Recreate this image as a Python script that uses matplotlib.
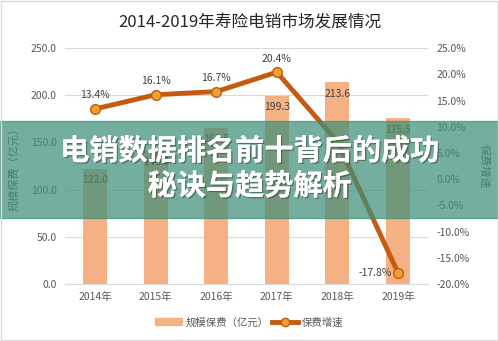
import numpy as np
import matplotlib.pyplot as plt
from matplotlib.patches import Rectangle
import matplotlib.patheffects as pe

plt.rcParams['font.family'] = ['Noto Sans CJK SC', 'DejaVu Sans']

# 数据
years = ['2014年', '2015年', '2016年', '2017年', '2018年', '2019年']
premium = [122.0, 141.8, 165.5, 199.3, 213.6, 175.5]
growth = [13.4, 16.1, 16.7, 20.4, 7.2, -17.8]

bar_color = '#f4b183'
line_color = '#c55a11'
tick_color = '#595959'

fig = plt.figure(figsize=(4.99, 3.41), dpi=100)
ax = fig.add_axes([0.130, 0.167, 0.728, 0.692])
x = np.arange(len(years))

ax.bar(x, premium, width=0.4, color=bar_color, zorder=2)
ax.set_ylim(0, 250)
ax.set_yticks(np.arange(0, 251, 50))
ax.set_yticklabels([f'{v:.1f}' for v in np.arange(0, 251, 50)])
ax.set_xlim(-0.5, len(years) - 0.5)
ax.set_xticks(x)
ax.set_xticklabels(years)
ax.grid(axis='y', color='#d9d9d9', linewidth=0.8, zorder=0)
for s in ['top', 'right', 'left']:
    ax.spines[s].set_visible(False)
ax.spines['bottom'].set_color('#d9d9d9')
ax.tick_params(length=0, colors=tick_color, labelsize=7.5, pad=6)
ax.set_ylabel('规模保费（亿元）', color=tick_color, fontsize=8, labelpad=8)

for xi, v in zip(x, premium):
    ax.text(xi, v - 12, f'{v:.1f}', ha='center', va='center', fontsize=7.5, color='#404040', zorder=3)

ax2 = ax.twinx()
ax2.plot(x, growth, color=line_color, linewidth=3.5, marker='o', markersize=7,
         markerfacecolor='#f0a030', markeredgecolor=line_color, markeredgewidth=1, zorder=4)
ax2.set_ylim(-20, 25)
ax2.set_yticks(np.arange(-20, 26, 5))
ax2.set_yticklabels([f'{v:.1f}%' for v in np.arange(-20, 26, 5)])
for s in ax2.spines.values():
    s.set_visible(False)
ax2.tick_params(length=0, colors=tick_color, labelsize=7.5, pad=6)
ax2.set_ylabel('保费增速', color=tick_color, fontsize=8, rotation=270, labelpad=14)

for xi, g in zip(x, growth):
    if g < 0:
        ax2.text(xi - 0.1, g, f'{g:.1f}%', ha='right', va='center', fontsize=7.5, color='#404040')
    elif xi == 4:
        pass
    else:
        ax2.text(xi, g + 2.6, f'{g:.1f}%', ha='center', va='center', fontsize=7.5, color='#404040')

fig.text(0.5, 0.935, '2014-2019年寿险电销市场发展情况', ha='center', va='center',
         fontsize=12, color='#262626')

# 图例
h1 = Rectangle((0, 0), 1, 1, color=bar_color)
h2, = ax2.plot([], [], color=line_color, linewidth=3.5, marker='o', markersize=6,
               markerfacecolor='#f0a030', markeredgecolor=line_color)
fig.legend([h1, h2], ['规模保费（亿元）', '保费增速'], loc='center', bbox_to_anchor=(0.5, 0.055),
           ncol=2, frameon=False, fontsize=7.5, labelcolor=tick_color,
           handlelength=2.5, columnspacing=0.3, handletextpad=0.4)

# 覆盖横幅
band_bottom = (341 - 218) / 341
band_top = (341 - 121) / 341
fig.patches.append(Rectangle((0, band_bottom), 1, band_top - band_bottom, transform=fig.transFigure,
                             color='#3f8f79', alpha=0.72, zorder=10))
shadow = [pe.withSimplePatchShadow(offset=(1, -1), shadow_rgbFace='#333333', alpha=0.5), pe.Normal()]
fig.text(0.5, (341 - 151) / 341, '电销数据排名前十背后的成功', ha='center', va='center',
         fontsize=21, fontweight='bold', color='white', zorder=11, path_effects=shadow)
fig.text(0.5, (341 - 186) / 341, '秘诀与趋势解析', ha='center', va='center',
         fontsize=21, fontweight='bold', color='white', zorder=11, path_effects=shadow)

fig.patches.append(Rectangle((0.002, 0.003), 0.996, 0.994, transform=fig.transFigure,
                             fill=False, edgecolor='#d9d9d9', linewidth=1, zorder=12))

fig.savefig('out.png', dpi=100)
